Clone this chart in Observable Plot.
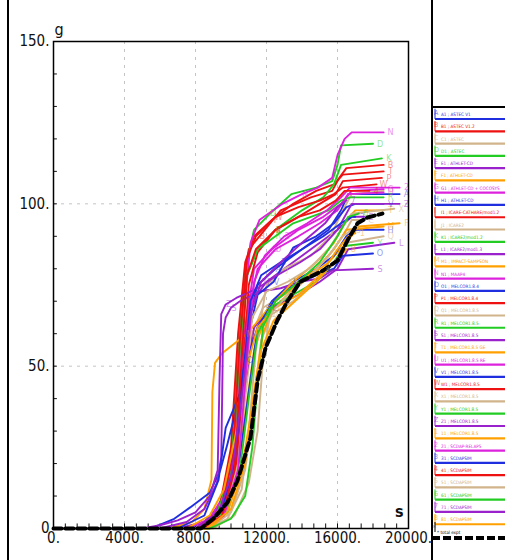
<!DOCTYPE html>
<html>
<head>
<meta charset="utf-8">
<script src="https://cdn.jsdelivr.net/npm/d3@7"></script>
<script src="https://cdn.jsdelivr.net/npm/@observablehq/plot@0.6"></script>
<style>
  html, body { margin: 0; padding: 0; background: #fff; }
  #wrap { position: relative; width: 505px; height: 560px; overflow: hidden; background: #fff; }
  #chart { position: absolute; left: 0; top: 0; }
  #legend { position: absolute; left: 432px; top: 0; width: 73px; height: 560px; }
  .vline { position: absolute; top: 0; height: 560px; background: #000; }
</style>
</head>
<body>
<div id="wrap">
  <div id="chart"></div>
  <div id="legend"></div>
  <div class="vline" style="left:7px;width:1.5px"></div>
  <div class="vline" style="left:431px;width:2px"></div>
</div>
<script>
// ---- axis ticks ----
const timeTicks = [0, 4000, 8000, 12000, 16000, 20000];
const massTicks = [0, 50, 100, 150];
const timeGrid = [4000, 8000, 12000, 16000];
const massGrid = [50, 100];

// ---- series metadata ----
const palette = ["#1f2fe0", "#ee1111", "#d2b48c", "#22cc22", "#9922cc", "#ffa000", "#dd22dd"];
const letters = ["A","B","C","D","E","F","G","H","I","J","K","L","M","N","O","P","Q","R","S","T","U","V","W","X","Y","Z","1","2","3","4","5","6","7","8"];
const codes = [
  "ASTEC V1", "ASTEC V1.2", "ASTEC", "ASTEC", "ATHLET-CD", "ATHLET-CD", "ATHLET-CD + COCOSYS", "ATHLET-CD",
  "ICARE-CATHARE/mod1.2", "ICARE2", "ICARE2/mod1.2", "ICARE2/mod1.3", "IMPACT-SAMPSON", "MAAP4",
  "MELCOR1.8.4", "MELCOR1.8.4", "MELCOR1.8.5", "MELCOR1.8.5", "MELCOR1.8.5", "MELCOR1.8.5 GE", "MELCOR1.8.5 RE",
  "MELCOR1.8.5", "MELCOR1.8.5", "MELCOR1.8.5", "MELCOR1.8.5", "MELCOR1.8.5", "MELCOR1.8.5", "SCDAP-RELAP5",
  "SCDAPSIM", "SCDAPSIM", "SCDAPSIM", "SCDAPSIM", "SCDAPSIM", "SCDAPSIM"
];

// ---- hydrogen mass (g) vs time (s) ----
const s01 = [[0,0],[7500,0],[8500,2],[9500,8],[10000,20],[10500,45],[11000,65],[11500,75],[12500,80],[13500,84],[14500,88],[15500,92],[16200,98],[16600,103],[19500,103]];
const s02 = [[0,0],[8000,0],[9000,3],[9800,12],[10300,40],[10600,70],[11000,86],[11600,90],[12800,98],[14500,102],[15700,104],[16100,108],[16500,111],[18600,112]];
const s03 = [[0,0],[8500,0],[9500,4],[10300,15],[10800,40],[11200,60],[11800,68],[13000,72],[14500,78],[15500,84],[16300,90],[16800,95],[17500,95]];
const s04 = [[0,0],[8200,0],[9200,4],[10000,20],[10400,55],[10800,80],[11300,92],[12200,97],[13400,103],[14800,105],[15700,107],[16000,112],[16200,118],[18000,118.5]];
const s05 = [[0,0],[7000,0],[8500,2],[9500,7],[10200,18],[10700,45],[11200,70],[12000,76],[13500,82],[15000,88],[16000,92],[16800,96],[17500,96]];
const s06 = [[0,0],[8000,0],[9000,3],[10000,12],[10800,35],[11300,55],[12000,66],[13200,72],[14500,78],[15500,82],[16500,88],[17200,93],[19500,94]];
const s07 = [[0,0],[7500,0],[8800,3],[9800,12],[10400,35],[10800,62],[11300,80],[12300,86],[13800,92],[15200,96],[16200,100],[16800,104],[18600,104.5]];
const s08 = [[0,0],[8500,0],[9800,6],[10500,22],[11000,42],[11500,62],[12300,70],[13500,76],[14800,80],[15800,84],[16500,90],[17000,92],[18600,92]];
const s09 = [[0,0],[8000,0],[9300,5],[10000,25],[10400,60],[10800,82],[11300,90],[12300,95],[13500,100],[14800,104],[15800,106],[16300,109],[18600,110]];
const s10 = [[0,0],[8700,0],[9800,3],[10600,12],[11000,30],[11400,55],[12000,75],[13000,80],[14500,84],[15600,90],[16300,98],[16800,103],[18600,104]];
const s11 = [[0,0],[8000,0],[9200,4],[10000,18],[10500,55],[10900,78],[11500,86],[12500,92],[14000,98],[15200,102],[15800,106],[16200,112],[18500,114]];
const s12 = [[0,0],[8200,0],[9500,5],[10300,20],[10800,45],[11300,62],[12300,68],[13800,72],[15000,76],[16000,80],[16600,86],[19200,88]];
const s13 = [[0,0],[6500,0],[7800,2],[8500,6],[8900,15],[8950,42],[9100,51],[9500,54],[10200,57],[10900,60],[11700,65],[12400,70],[13500,74],[14800,80],[15800,86],[16500,92],[18600,93]];
const s14 = [[0,0],[8200,0],[9400,5],[10200,25],[10700,65],[11100,88],[11600,95],[12900,100],[14000,103],[14900,105],[15700,108],[16000,115],[16400,120],[16800,122],[18600,122]];
const s15 = [[0,0],[5500,0],[6800,3],[7700,6.5],[8800,11],[9400,18],[9800,26],[10400,39],[10900,52],[11500,62],[12400,70],[13500,75],[14800,78],[15800,80],[16300,84],[18000,84.7]];
const s16 = [[0,0],[8500,0],[9600,4],[10300,18],[10700,50],[11000,75],[11500,85],[12500,92],[13800,96],[15000,100],[15900,103],[16300,107],[18500,108]];
const s17 = [[0,0],[8800,0],[10000,5],[10800,18],[11300,40],[11700,58],[12300,66],[13500,70],[14800,76],[15800,82],[16500,88],[18600,90]];
const s18 = [[0,0],[8300,0],[9400,4],[10100,20],[10500,55],[10900,78],[11500,86],[12500,90],[13500,94],[14500,96],[15500,98],[16200,101],[16700,102],[18600,102]];
const s19 = [[0,0],[6000,0],[7500,2],[8500,6],[9200,14],[9450,22],[9500,40],[9550,60],[9700,65],[10000,68],[10500,70],[11600,73],[12800,74],[13900,76],[15000,77],[15700,79.5],[18000,80]];
const s20 = [[0,0],[8800,0],[10000,6],[10800,20],[11300,42],[11800,60],[12500,70],[13500,76],[14800,82],[15800,88],[16500,95],[17000,98],[18600,98]];
const s21 = [[0,0],[8000,0],[9300,4],[10100,15],[10600,42],[11000,68],[11500,80],[12500,86],[13800,90],[15000,94],[16000,98],[16600,103],[18600,103.5]];
const s22 = [[0,0],[7000,0],[8500,4],[9300,15],[9700,31],[10500,41.5],[11000,60],[11500,72],[12400,76],[13500,86.5],[14800,90],[15800,94],[16500,99],[17000,100],[18600,100]];
const s23 = [[0,0],[8200,0],[9400,5],[10100,22],[10500,58],[10900,83],[11400,90],[12500,96],[13800,99],[15000,101],[15800,103],[16300,105],[18200,106]];
const s24 = [[0,0],[8500,0],[9700,5],[10400,20],[10800,45],[11200,65],[12000,73],[13200,76],[14400,80],[15500,86],[16200,92],[16800,97],[19200,98.5]];
const s25 = [[0,0],[8500,0],[9800,5],[10500,18],[11000,40],[11500,60],[12200,68],[13500,72],[14800,76],[15800,82],[16400,87],[18000,88]];
const s26 = [[0,0],[5000,0],[6000,1],[7000,2.5],[8000,5],[8800,10],[9250,18],[9350,45],[9450,66],[9700,69],[10300,71],[11500,74],[12600,78],[13900,82],[15000,86],[16000,92],[16800,100],[19500,100]];
const s27 = [[0,0],[7500,0],[8800,4],[9600,12],[10300,30],[10900,50],[11500,62],[12500,68],[13800,72],[15000,78],[16000,86],[16600,90],[17000,91]];
const s28 = [[0,0],[8500,0],[9600,4],[10400,18],[10900,52],[11300,76],[11900,84],[13000,90],[14300,94],[15400,98],[16200,102],[16700,105],[19500,105]];
const s29 = [[0,0],[8300,0],[9500,6],[10200,20],[10700,48],[11100,70],[11700,78],[12800,82],[14000,86],[15200,90],[16200,94],[16800,96],[17000,96]];
const s30 = [[0,0],[8400,0],[9500,4],[10200,18],[10600,52],[10900,78],[11400,86],[12500,92],[13800,96],[15000,98],[15900,101],[16400,104],[17800,104]];
const s31 = [[0,0],[9000,0],[10200,4],[11000,14],[11500,30],[11800,52],[12200,66],[13200,72],[14500,78],[15500,84],[16300,90],[16800,92]];
const s32 = [[0,0],[8800,0],[10000,3],[10800,10],[11200,25],[11500,45],[11800,62],[12500,70],[13800,76],[15000,82],[16000,90],[16600,96],[17200,97]];
const s33 = [[0,0],[8000,0],[9300,5],[10000,16],[10600,40],[11100,66],[11700,76],[12800,82],[14000,88],[15300,94],[16000,99],[16500,101]];
const s34 = [[0,0],[8600,0],[9800,5],[10600,18],[11200,38],[11700,55],[12400,64],[13600,70],[14800,76],[15800,82],[16500,86]];
const expt = [[0,0],[8300,0],[9000,3],[9800,8],[10370,14.8],[11100,28],[11500,45.6],[11950,55.7],[12600,64],[13180,70],[13900,76],[15200,79.5],[16000,82.5],[16560,88.7],[17130,94],[17690,95.8],[18530,97]];

const series = [s01,s02,s03,s04,s05,s06,s07,s08,s09,s10,s11,s12,s13,s14,s15,s16,s17,s18,s19,s20,s21,s22,s23,s24,s25,s26,s27,s28,s29,s30,s31,s32,s33,s34];

// ---- tables for Plot ----
const rows = [];
const midMarks = [];
const endMarks = [];
series.forEach((pts, i) => {
  const color = palette[i % 7];
  pts.forEach(([t, m]) => rows.push({id: i, t, m, color}));
  const mid = pts[Math.floor(pts.length * 0.55)];
  const last = pts[pts.length - 1];
  midMarks.push({t: mid[0], m: mid[1], color, letter: letters[i]});
  endMarks.push({t: last[0], m: last[1], color, letter: letters[i]});
});
const exptRows = expt.map(([t, m]) => ({t, m}));
const minorT = d3.range(0, 31).map(k => k * 20000 / 30);
const minorM = d3.range(0, 151, 10);

const FONT = "'Liberation Sans Narrow', 'DejaVu Sans Condensed', 'Liberation Sans', sans-serif";

const chart = Plot.plot({
  width: 432,
  height: 560,
  marginLeft: 53,
  marginTop: 41,
  marginRight: 24,
  marginBottom: 32,
  x: {domain: [0, 20000]},
  y: {domain: [0, 150]},
  color: {type: "identity"},
  style: {fontFamily: FONT, fontSize: "15px", color: "#111", background: "transparent"},
  marks: [
    Plot.ruleX(timeGrid, {stroke: "#c4c4c4", strokeDasharray: "3,5", strokeWidth: 1}),
    Plot.ruleY(massGrid, {stroke: "#c4c4c4", strokeDasharray: "3,5", strokeWidth: 1}),
    Plot.ruleX(minorT, {y1: 0, y2: 1.4, stroke: "#111", strokeWidth: 1}),
    Plot.ruleY(minorM, {x1: 0, x2: 220, stroke: "#111", strokeWidth: 1}),
    Plot.line(rows, {x: "t", y: "m", z: "id", stroke: "color", strokeWidth: 1.9, curve: "linear"}),
    Plot.text(midMarks, {x: "t", y: "m", text: "letter", fill: "color", fillOpacity: 0.5, fontSize: 9, dx: 3}),
    Plot.text(endMarks, {x: "t", y: "m", text: "letter", fill: "color", fillOpacity: 0.5, fontSize: 9, dx: 7}),
    Plot.line(exptRows, {x: "t", y: "m", stroke: "#000", strokeWidth: 4, strokeDasharray: "8,4"}),
    Plot.text([exptRows[11]], {x: "t", y: "m", text: () => "*", fill: "#555", fontSize: 13, dx: 5}),
    Plot.frame({stroke: "#000", strokeWidth: 1.5}),
    Plot.axisX(timeTicks, {tickSize: 0, tickPadding: 4, tickFormat: d => d + ".", label: null, fontSize: 15}),
    Plot.axisY(massTicks, {tickSize: 0, tickPadding: 4, tickFormat: d => d === 0 ? "0" : d + ".", label: null, fontSize: 15}),
    Plot.text(["g"], {frameAnchor: "top-left", text: d => d, textAnchor: "start", lineAnchor: "bottom", dx: 1, dy: -7, fontSize: 16}),
    Plot.text(["s"], {frameAnchor: "bottom-right", text: d => d, textAnchor: "end", lineAnchor: "bottom", dx: -5, dy: -12, fontSize: 16, fontWeight: "bold"})
  ]
});
document.getElementById("chart").appendChild(chart);

// ---- legend panel ----
const L = d3.select("#legend").append("svg").attr("width", 73).attr("height", 560);
L.append("line").attr("x1", 0).attr("x2", 73).attr("y1", 107).attr("y2", 107).attr("stroke", "#000").attr("stroke-width", 2);
const step = 12.28;
series.forEach((pts, i) => {
  const y = 119 + i * step;
  const c = palette[i % 7];
  L.append("line").attr("x1", 3).attr("x2", 3).attr("y1", y - step + 2).attr("y2", y).attr("stroke", c).attr("stroke-width", 1);
  L.append("line").attr("x1", 3).attr("x2", 73).attr("y1", y).attr("y2", y).attr("stroke", c).attr("stroke-width", 2.2);
  L.append("text").attr("x", 2).attr("y", y - 4).attr("font-size", 7).attr("fill", c).attr("fill-opacity", 0.6)
    .attr("font-family", FONT).text(letters[i]);
  L.append("text").attr("x", 9).attr("y", y - 3).attr("font-size", 4.6).attr("fill", c)
    .attr("font-family", FONT).text(letters[i] + "1 ; " + codes[i]);
});
const ye = 538;
L.append("line").attr("x1", 3).attr("x2", 3).attr("y1", ye - 16).attr("y2", ye - 6).attr("stroke", "#000").attr("stroke-width", 1);
L.append("text").attr("x", 1).attr("y", ye - 8).attr("font-size", 7).attr("fill", "#555").attr("font-family", FONT).text("*");
L.append("text").attr("x", 5).attr("y", ye - 4).attr("font-size", 4.6).attr("fill", "#000").attr("font-family", FONT).text("* total expt");
L.append("line").attr("x1", 0).attr("x2", 73).attr("y1", ye).attr("y2", ye).attr("stroke", "#000").attr("stroke-width", 4).attr("stroke-dasharray", "8,3");
</script>
</body>
</html>
